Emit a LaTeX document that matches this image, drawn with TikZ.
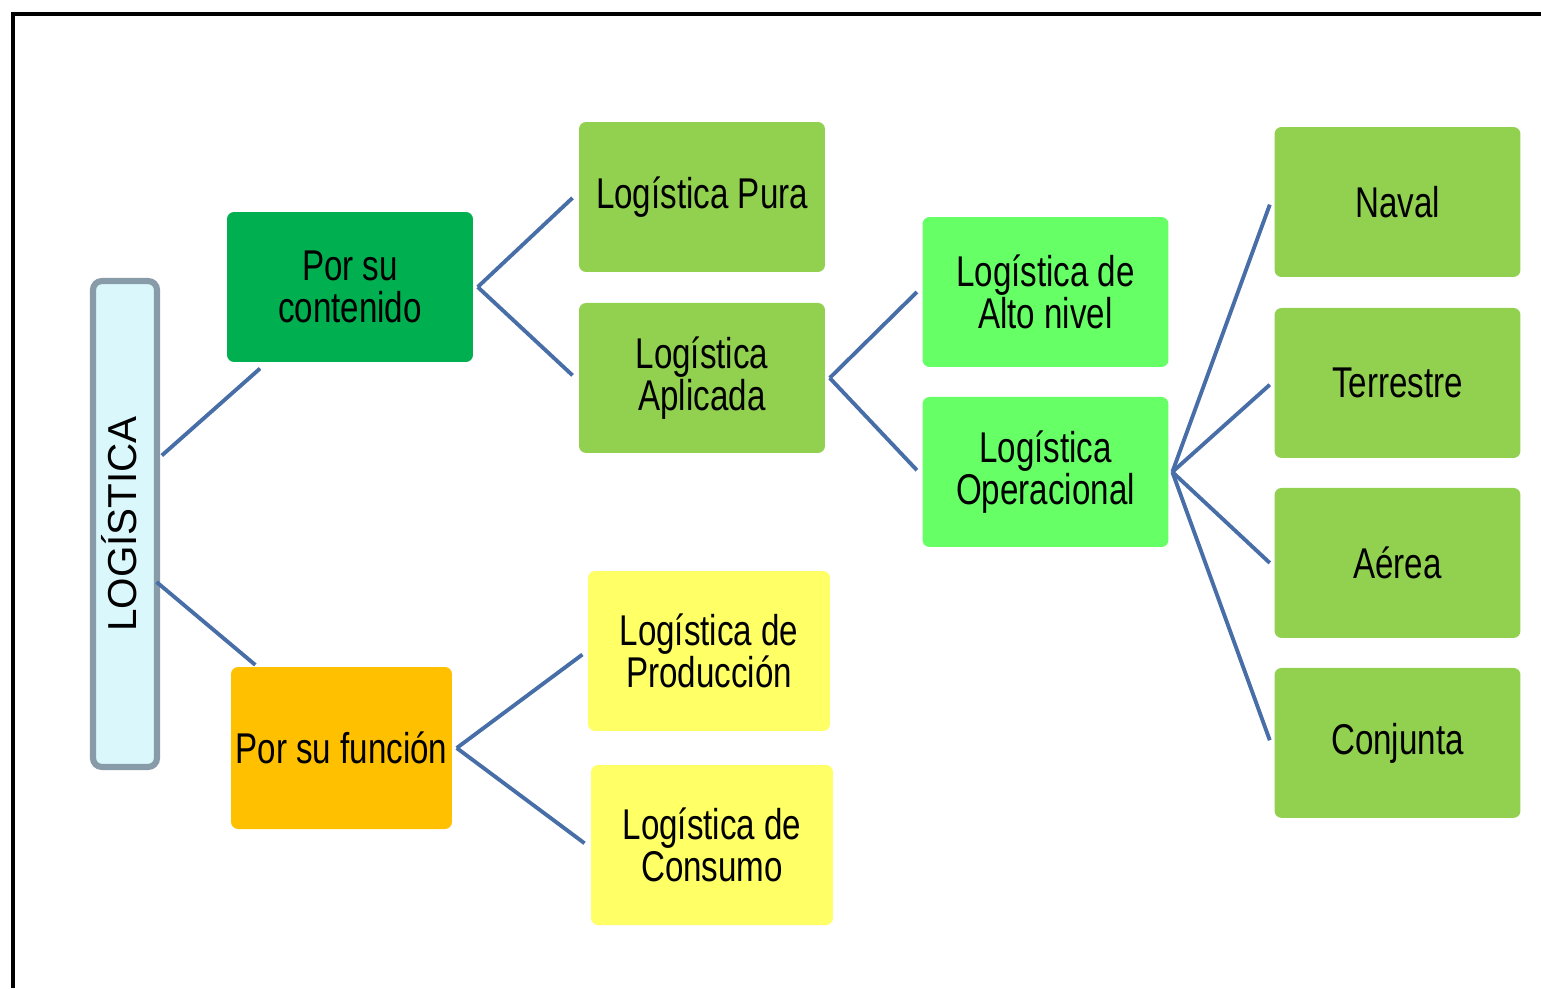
\documentclass[tikz,border=0pt]{standalone}
\usepackage{fontspec}
\setmainfont{Liberation Sans}
\newfontfamily\boxfont[FakeStretch=0.77]{Liberation Sans}
\definecolor{darkgreen}{RGB}{0,176,80}
\definecolor{leafgreen}{RGB}{146,208,80}
\definecolor{brightgreen}{RGB}{102,255,102}
\definecolor{amber}{RGB}{255,192,0}
\definecolor{paleyellow}{RGB}{255,255,102}
\definecolor{palecyan}{RGB}{218,247,252}
\definecolor{bargray}{RGB}{135,155,168}
\definecolor{linkblue}{RGB}{72,110,168}
\begin{document}
\begin{tikzpicture}[x=0.02cm, y=-0.02cm,
    box/.style={rectangle, rounded corners=4pt, align=center, inner sep=0pt,
      minimum width=4.92cm, minimum height=3cm,
      font=\boxfont\fontsize{24.5}{24}\selectfont},
    link/.style={draw=linkblue, line width=2.2pt}]
    \useasboundingbox (0,0) rectangle (1541,988);
    \draw[line width=2pt] (13,988) -- (13,14) -- (1541,14);

    \node (log) [rectangle, rounded corners=5pt, draw=bargray, line width=3.5pt,
      fill=palecyan, inner sep=0pt, minimum width=1.28cm, minimum height=9.72cm,
      font=\fontsize{23}{23}\selectfont] at (125,524)
      {\rotatebox{90}{\raisebox{3.5pt}[\height][\depth]{LOGÍSTICA}}};

    \node (cont) [box, fill=darkgreen] at (350,287) {Por su\\contenido};
    \node (func) [box, fill=amber, minimum width=4.42cm, minimum height=3.24cm] at (341.5,748) {Por su función};

    \node (pura) [box, fill=leafgreen] at (702,197) {Logística Pura};
    \node (apl) [box, fill=leafgreen, below of=pura, node distance=3.62cm] {Logística\\Aplicada};
    \node (prod) [box, fill=paleyellow, minimum width=4.84cm, minimum height=3.2cm] at (709,651) {Logística de\\Producción};
    \node (cons) [box, fill=paleyellow, minimum width=4.84cm, minimum height=3.2cm] at (712,845) {Logística de\\Consumo};

    \node (alto) [box, fill=brightgreen] at (1045.5,292) {Logística de\\Alto nivel};
    \node (oper) [box, fill=brightgreen, below of=alto, node distance=3.6cm] {Logística\\Operacional};

    \node (naval) [box, fill=leafgreen] at (1397.5,202) {Naval};
    \node (terr) [box, fill=leafgreen, below of=naval, node distance=3.62cm] {Terrestre};
    \node (aer) [box, fill=leafgreen, below of=terr, node distance=3.6cm] {Aérea};
    \node (conj) [box, fill=leafgreen, below of=aer, node distance=3.6cm] {Conjunta};

    \draw[link] ([xshift=1pt, yshift=39pt]log.east) -- ([xshift=19pt, yshift=-3.5pt]cont.south west);
    \draw[link] ([xshift=-2pt, yshift=-33pt]log.east) -- ([xshift=14pt, yshift=1pt]func.north west);
    \draw[link] ([xshift=2.5pt]cont.east) -- ([xshift=-3.5pt, yshift=-0.5pt]pura.west);
    \draw[link] ([xshift=2.5pt]cont.east) -- ([xshift=-3.5pt, yshift=1.5pt]apl.west);
    \draw[link] ([xshift=2.5pt]apl.east) -- ([xshift=-3pt]alto.west);
    \draw[link] ([xshift=2.5pt]apl.east) -- ([xshift=-3pt, yshift=1pt]oper.west);
    \draw[link] ([xshift=2pt]oper.east) -- ([xshift=-2.5pt, yshift=-1.5pt]naval.west);
    \draw[link] ([xshift=2pt]oper.east) -- ([xshift=-2.5pt, yshift=-1pt]terr.west);
    \draw[link] ([xshift=2pt]oper.east) -- ([xshift=-2.5pt]aer.west);
    \draw[link] ([xshift=2pt]oper.east) -- ([xshift=-2.5pt, yshift=1.5pt]conj.west);
    \draw[link] ([xshift=2.5pt]func.east) -- ([xshift=-3pt, yshift=-2pt]prod.west);
    \draw[link] ([xshift=2.5pt]func.east) -- ([xshift=-3.5pt, yshift=1pt]cons.west);
  \end{tikzpicture}
\end{document}
